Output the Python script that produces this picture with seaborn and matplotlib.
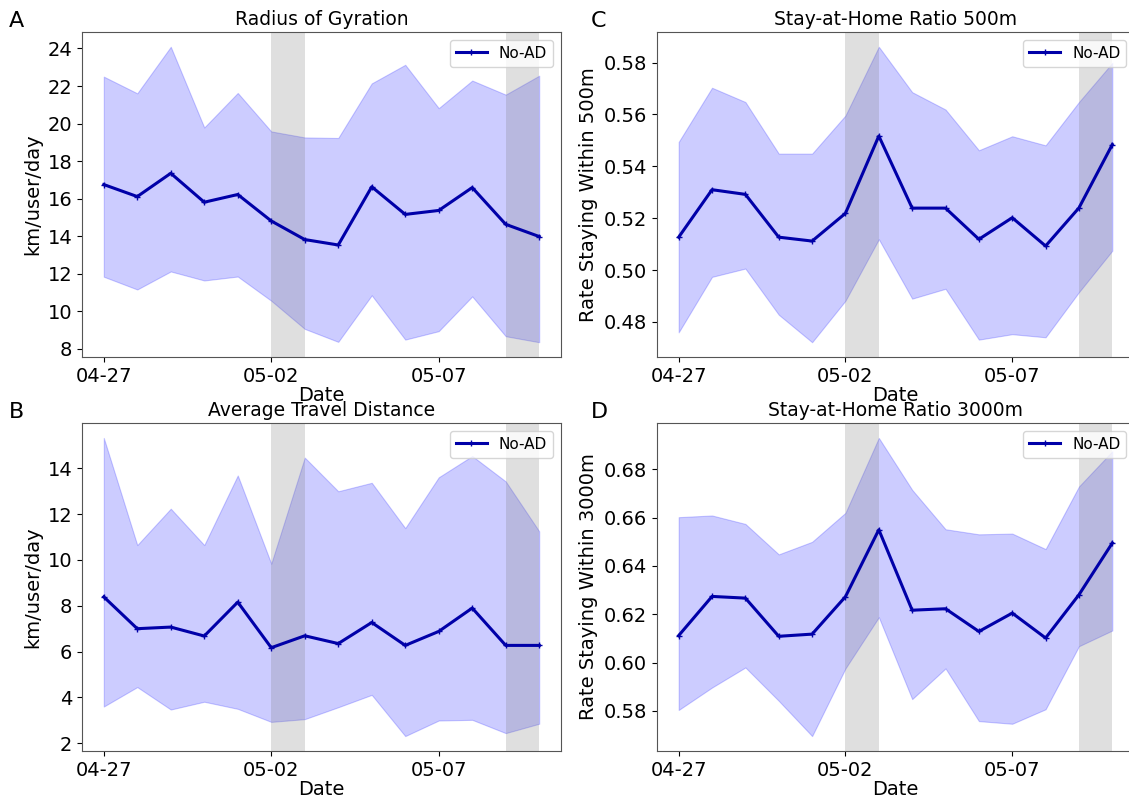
import matplotlib
matplotlib.use("Agg")
import matplotlib.pyplot as plt
import matplotlib.dates as mdates
from matplotlib.ticker import MultipleLocator
import seaborn as sns
import pandas as pd
import numpy as np

dates = ["2020-04-27", "2020-04-28", "2020-04-29", "2020-04-30", "2020-05-01",
         "2020-05-02", "2020-05-03", "2020-05-04", "2020-05-05", "2020-05-06",
         "2020-05-07", "2020-05-08", "2020-05-09", "2020-05-10"]
weekend_spans = [("2020-05-02", "2020-05-03"), ("2020-05-09", "2020-05-10")]

gyr_mean = [16.75, 16.11, 17.35, 15.81, 16.22, 14.81, 13.82, 13.53, 16.63, 15.16, 15.37, 16.59, 14.63, 13.98]
gyr_up = [22.50, 21.61, 24.09, 19.79, 21.63, 19.58, 19.26, 19.23, 22.14, 23.13, 20.82, 22.29, 21.54, 22.55]
gyr_lo = [11.84, 11.16, 12.12, 11.64, 11.85, 10.56, 9.06, 8.37, 10.85, 8.49, 8.94, 10.79, 8.67, 8.35]

dist_mean = [8.39, 7.00, 7.07, 6.68, 8.16, 6.17, 6.69, 6.35, 7.27, 6.27, 6.88, 7.90, 6.27, 6.27]
dist_up = [15.33, 10.65, 12.24, 10.65, 13.69, 9.84, 14.47, 13.00, 13.37, 11.39, 13.61, 14.54, 13.43, 11.25]
dist_lo = [3.60, 4.45, 3.47, 3.81, 3.50, 2.93, 3.05, 3.57, 4.11, 2.31, 2.99, 3.02, 2.44, 2.85]

h500_mean = [0.5127, 0.5310, 0.5292, 0.5127, 0.5112, 0.5219, 0.5517, 0.5239, 0.5239, 0.5119, 0.5202, 0.5093, 0.5240, 0.5484]
h500_up = [0.5494, 0.5703, 0.5648, 0.5449, 0.5449, 0.5596, 0.5861, 0.5686, 0.5619, 0.5462, 0.5516, 0.5481, 0.5648, 0.5799]
h500_lo = [0.4760, 0.4974, 0.5006, 0.4828, 0.4722, 0.4882, 0.5119, 0.4890, 0.4928, 0.4732, 0.4753, 0.4741, 0.4915, 0.5075]

h3000_mean = [0.6112, 0.6274, 0.6267, 0.6109, 0.6118, 0.6273, 0.6550, 0.6217, 0.6223, 0.6129, 0.6205, 0.6102, 0.6281, 0.6495]
h3000_up = [0.6602, 0.6609, 0.6574, 0.6448, 0.6500, 0.6620, 0.6930, 0.6715, 0.6552, 0.6531, 0.6534, 0.6470, 0.6729, 0.6875]
h3000_lo = [0.5804, 0.5897, 0.5980, 0.5842, 0.5696, 0.5976, 0.6188, 0.5849, 0.5976, 0.5758, 0.5747, 0.5807, 0.6068, 0.6133]

panels = [
    ("A", "Radius of Gyration", "km/user/day", gyr_mean, gyr_up, gyr_lo, 2),
    ("B", "Average Travel Distance", "km/user/day", dist_mean, dist_up, dist_lo, 2),
    ("C", "Stay-at-Home Ratio 500m", "Rate Staying Within 500m", h500_mean, h500_up, h500_lo, 0.02),
    ("D", "Stay-at-Home Ratio 3000m", "Rate Staying Within 3000m", h3000_mean, h3000_up, h3000_lo, 0.02),
]

W, H = 1129, 797
fig = plt.figure(figsize=(W / 100, H / 100), dpi=100)
plt.rcParams['font.family'] = ['DejaVu Sans']

def px_axes(l, t, r, b):
    return fig.add_axes([l / W, 1 - b / H, (r - l) / W, (b - t) / H])

boxes = {
    "A": (82, 32, 561, 357),
    "B": (82, 423, 561, 751),
    "C": (657, 32, 1134, 357),
    "D": (657, 423, 1134, 751),
}
letter_pos = {"A": (9, 21), "B": (9, 412), "C": (591, 21), "D": (591, 412)}

x = pd.to_datetime(dates)
line_color = "#0000a8"

for letter, title, ylabel, mean, up, lo, step in panels:
    ax = px_axes(*boxes[letter])
    df = pd.DataFrame({"Date": x, "value": mean})
    ax.fill_between(x, lo, up, color="blue", alpha=0.2, linewidth=0.8)
    sns.lineplot(data=df, x="Date", y="value", ax=ax, color=line_color,
                 linewidth=2.2, marker="+", markersize=5, markeredgewidth=1.0,
                 markeredgecolor=line_color, label="No-AD")
    for s, e in weekend_spans:
        ax.axvspan(pd.Timestamp(s), pd.Timestamp(e), color="grey", alpha=0.25, linewidth=0)
    ax.set_xticks(x[0::5])
    ax.xaxis.set_major_formatter(mdates.DateFormatter("%m-%d"))
    ax.yaxis.set_major_locator(MultipleLocator(step))
    ax.tick_params(labelsize=14)
    ax.set_xlabel("Date", fontsize=14, labelpad=0)
    ax.set_ylabel(ylabel, fontsize=14)
    ax.set_title(title, fontsize=13.5, pad=5)
    for sp in ax.spines.values():
        sp.set_color("#555555")
    ax.legend(loc="upper right", fontsize=11)
    lx, ly = letter_pos[letter]
    fig.text(lx / W, 1 - ly / H, letter, fontsize=16, va="center", ha="left")

fig.savefig("out.png", dpi=100)
